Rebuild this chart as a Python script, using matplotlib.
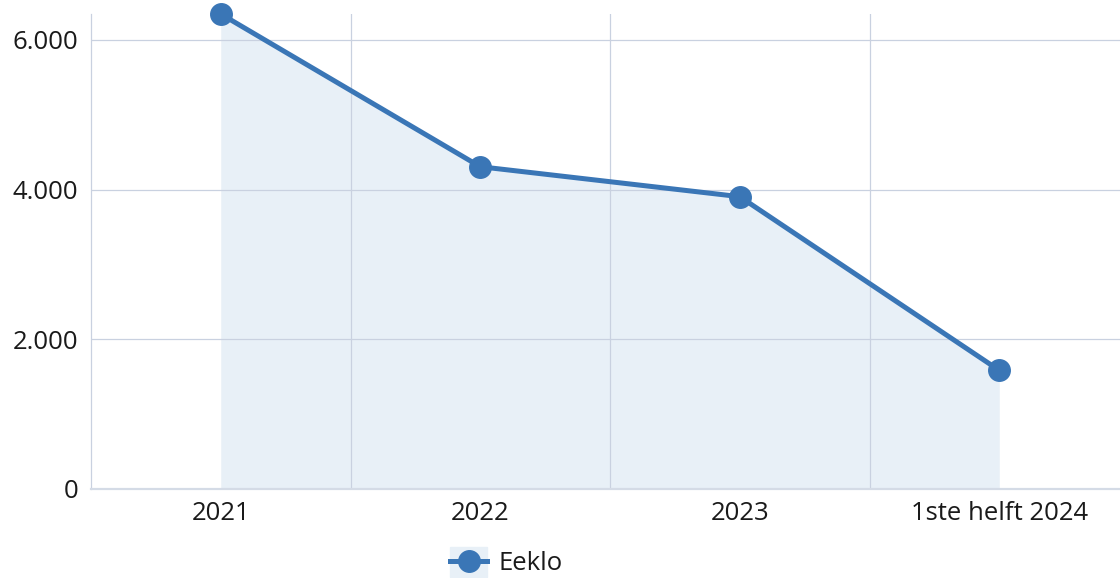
import matplotlib.pyplot as plt
from matplotlib.lines import Line2D
from matplotlib.patches import Rectangle
from matplotlib.ticker import FuncFormatter

plt.rcParams['font.family'] = ['Open Sans', 'DejaVu Sans']

categories = ['2021', '2022', '2023', '1ste helft 2024']
values = [6345, 4305, 3905, 1585]
series_name = 'Eeklo'
yticks = [0, 2000, 4000, 6000]

line_col = '#3a76b6'
fill_col = '#e8f0f7'
grid_col = '#c9d1e0'

fig = plt.figure(figsize=(11.2, 5.78), dpi=100)
ax = fig.add_axes([91 / 1120, 89 / 578, 1038 / 1120, 475 / 578])

x = list(range(len(categories)))
ax.fill_between(x, 0, values, color=fill_col, linewidth=0, zorder=1)
ax.plot(x, values, color=line_col, lw=3.6, marker='o', ms=15.5,
        solid_capstyle='round', clip_on=False, zorder=3)

ax.set_xlim(-0.5, len(categories) - 0.5)
ax.set_ylim(0, max(values))
ax.set_yticks(yticks)
ax.yaxis.set_major_formatter(FuncFormatter(lambda v, p: f'{int(v):,}'.replace(',', '.')))
ax.set_xticks(x)
ax.set_xticklabels(categories)

# grid drawn above the area fill, below the line
for b in [i + 0.5 for i in x[:-1]]:
    ax.axvline(b, color=grid_col, lw=0.9, zorder=2)
for t in yticks[1:]:
    ax.axhline(t, color=grid_col, lw=0.9, zorder=2)

for s in ['top', 'right']:
    ax.spines[s].set_visible(False)
ax.spines['left'].set_color(grid_col)
ax.spines['left'].set_linewidth(0.9)
ax.spines['bottom'].set_color('#d4dbe6')
ax.spines['bottom'].set_linewidth(1.6)
ax.tick_params(length=0, labelsize=18.5, colors='#1a1a1a')
ax.tick_params(axis='x', pad=9)
ax.tick_params(axis='y', pad=9)

fig.patches.append(Rectangle((450 / 1120, 1 / 578), 37 / 1120, 30 / 578,
                             transform=fig.transFigure, color=fill_col, zorder=0))
handle = Line2D([], [], color=line_col, lw=3.6, marker='o', ms=15.5)
leg = fig.legend([handle], [series_name], loc='center left', bbox_to_anchor=(450 / 1120, 15 / 578),
                 frameon=False, fontsize=18.5, handlelength=1.45, handletextpad=0.42,
                 borderpad=0, borderaxespad=0)
for t in leg.get_texts():
    t.set_color('#1a1a1a')

fig.savefig('out.png', dpi=100)
